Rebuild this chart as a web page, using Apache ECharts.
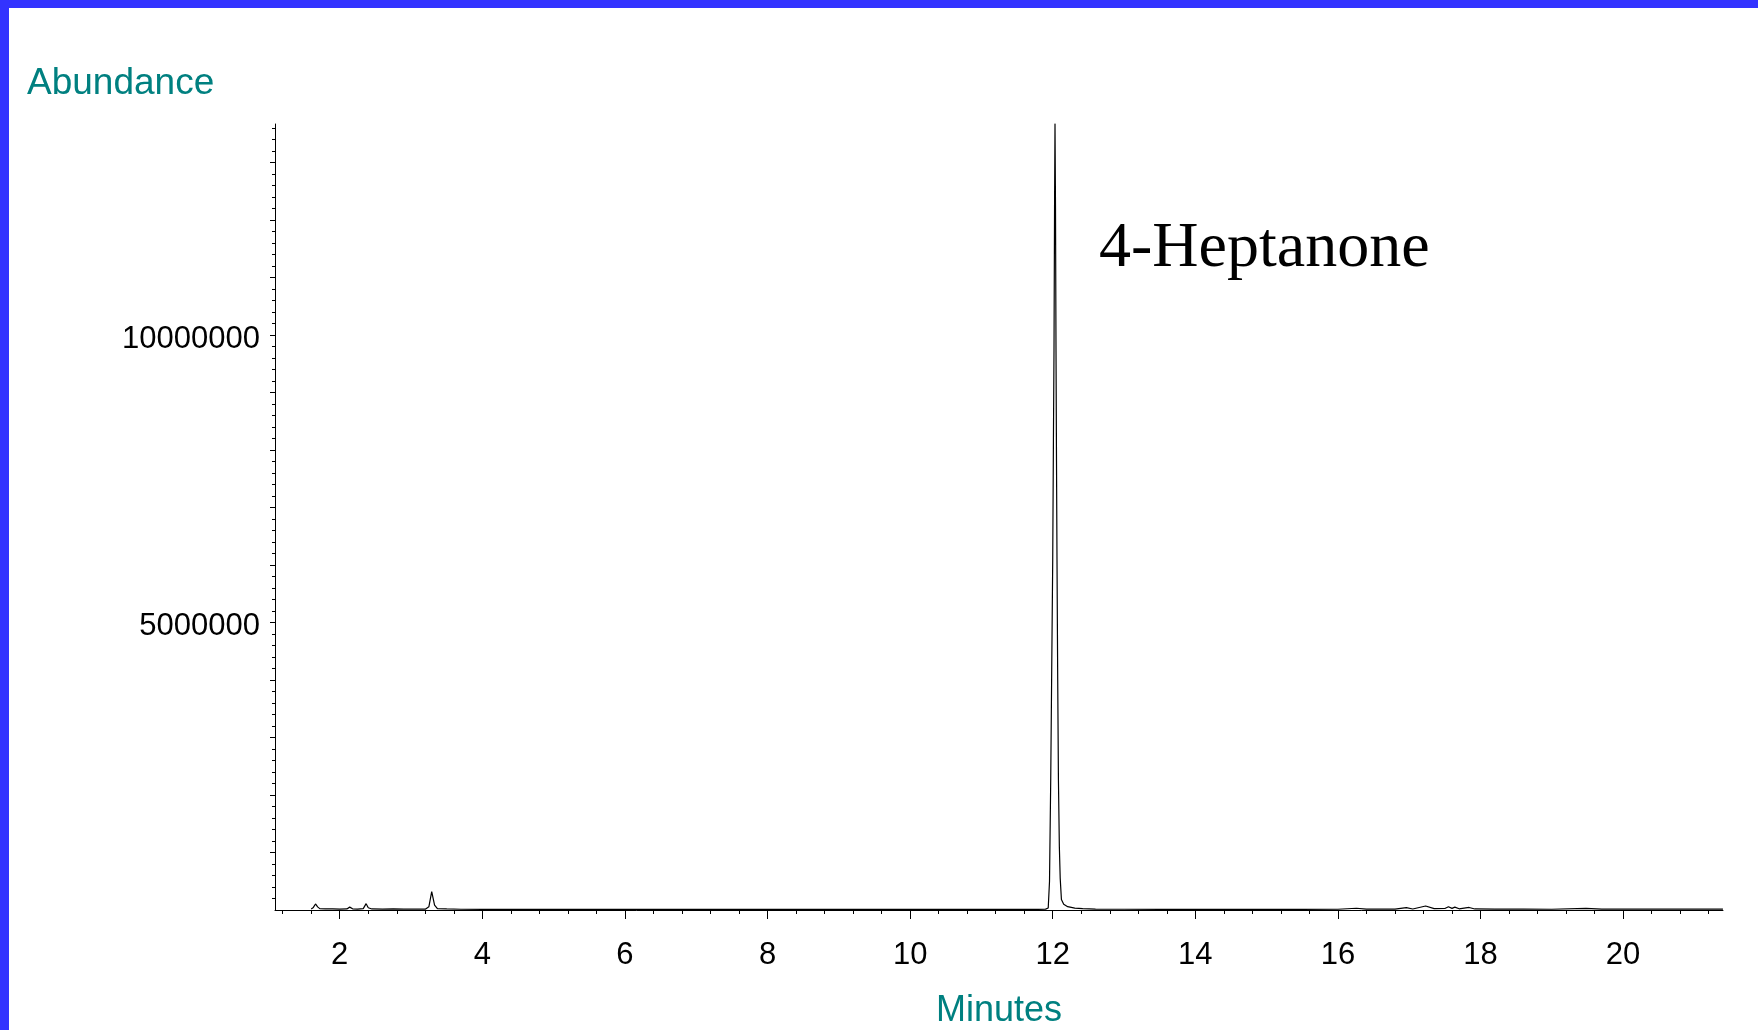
<!DOCTYPE html>
<html>
<head>
<meta charset="utf-8">
<title>4-Heptanone chromatogram</title>
<script src="https://cdn.jsdelivr.net/npm/echarts@6/dist/echarts.min.js"></script>
<style>
  html, body { margin: 0; padding: 0; background: #ffffff; }
  #chart { width: 1758px; height: 1030px; }
</style>
</head>
<body>
<div id="chart"></div>
<script>
// retention time (min) and abundance
var times = [
  1.60, 1.63, 1.66, 1.69, 1.72, 1.80, 1.90, 2.00, 2.10, 2.14, 2.18, 2.25,
  2.33, 2.37, 2.40, 2.45, 2.60, 2.75, 2.90, 3.05, 3.20, 3.25, 3.29, 3.33,
  3.37, 3.50, 3.70, 4.00, 4.50, 5.00, 5.50, 6.00, 6.50, 7.00, 7.50, 8.00,
  8.50, 9.00, 9.50, 10.00, 10.50, 11.00, 11.50, 11.80, 11.90, 11.937, 11.955, 11.972,
  11.986, 12.000, 12.010, 12.018, 12.026, 12.032, 12.039, 12.046, 12.053, 12.060, 12.070, 12.080,
  12.093, 12.105, 12.122, 12.154, 12.21, 12.31, 12.42, 12.60, 13.00, 13.50, 14.00, 14.50,
  15.00, 15.50, 16.00, 16.26, 16.40, 16.80, 16.96, 17.05, 17.23, 17.35, 17.50, 17.55,
  17.60, 17.64, 17.70, 17.84, 17.92, 18.20, 18.60, 19.00, 19.48, 19.70, 20.00, 20.50,
  21.00, 21.40
];
var abundance = [
  18000, 45000, 105000, 55000, 24000, 18000, 21000, 16000, 18000, 50000, 20000, 16000,
  24000, 110000, 40000, 18000, 16000, 19000, 15000, 17000, 15000, 55000, 320000, 85000,
  24000, 18000, 13000, 11000, 12000, 10000, 11000, 10000, 11000, 10000, 10000, 12000,
  10000, 11000, 10000, 11000, 10000, 10000, 11000, 12000, 15000, 35000, 500000, 2270000,
  4200000, 6090000, 8200000, 9740000, 12300000, 13680000, 12200000, 9740000, 7800000, 6090000, 4000000, 2270000,
  1100000, 550000, 181000, 100000, 58000, 34000, 23000, 16000, 13000, 12000, 11000, 11000,
  12000, 11000, 13000, 30000, 14000, 15000, 40000, 18000, 70000, 23000, 26000, 56000,
  28000, 50000, 21000, 44000, 18000, 15000, 14000, 13000, 28000, 16000, 15000, 14000,
  15000, 15000
];

// axis ticks and labels
var xMajorTicks = [2, 4, 6, 8, 10, 12, 14, 16, 18, 20];
var yLabelValues = [5000000, 10000000];
var yMajorTicks = [1000000, 2000000, 3000000, 4000000, 5000000, 6000000, 7000000,
  8000000, 9000000, 10000000, 11000000, 12000000, 13000000];

var xMin = 1.092, xMax = 21.401;
var yMin = 0, yMax = 13667000;
// the printed y labels sit a few pixels below their ticks
var yLabelShift = 75000;

// minor ticks: 0.4 min on x, 200000 on y
var xMinorTicks = [];
for (var i = 3; i * 0.4 <= xMax; i++) xMinorTicks.push(Math.round(i * 0.4 * 10) / 10);
var yMinorTicks = [];
for (var j = 1; j * 200000 <= yMax; j++) yMinorTicks.push(j * 200000);

var points = times.map(function (t, k) { return [t, abundance[k]]; });

var teal = '#008080';
var font = 'Liberation Sans, Arial, sans-serif';

var myChart = echarts.init(document.getElementById('chart'));

var option = {
  backgroundColor: '#ffffff',
  animation: false,
  title: [{
    text: 'Abundance',
    left: 27,
    top: 65,
    padding: 0,
    textStyle: { color: teal, fontSize: 37, fontWeight: 'normal', fontFamily: font }
  }, {
    text: '4-Heptanone',
    left: 1099,
    top: 217,
    padding: 0,
    textStyle: { color: '#000000', fontSize: 64, fontWeight: 'normal', fontFamily: 'Liberation Serif, Times New Roman, serif' }
  }],
  graphic: [
    { type: 'rect', shape: { x: 0, y: 0, width: 1758, height: 8 }, style: { fill: '#3333ff' }, z: 100 },
    { type: 'rect', shape: { x: 0, y: 0, width: 9, height: 1030 }, style: { fill: '#3333ff' }, z: 100 }
  ],
  grid: {
    left: 275,
    right: 35,
    top: 124,
    bottom: 120,
    containLabel: false,
    outerBoundsMode: 'none'
  },
  xAxis: [{
    type: 'value',
    min: xMin,
    max: xMax,
    position: 'bottom',
    name: 'Minutes',
    nameLocation: 'middle',
    nameGap: 83,
    nameTextStyle: { color: teal, fontSize: 36, fontFamily: font },
    axisLine: { show: true, lineStyle: { color: '#000000', width: 1 } },
    axisTick: { show: true, customValues: xMajorTicks, length: 9, lineStyle: { color: '#000000' } },
    axisLabel: { customValues: xMajorTicks, color: '#000000', fontSize: 31, fontFamily: font, margin: 30 },
    splitLine: { show: false }
  }, {
    type: 'value',
    min: xMin,
    max: xMax,
    position: 'bottom',
    axisLine: { show: false },
    axisTick: { show: true, customValues: xMinorTicks, length: 4, lineStyle: { color: '#000000' } },
    axisLabel: { show: false },
    splitLine: { show: false }
  }],
  yAxis: [{
    type: 'value',
    min: yMin,
    max: yMax,
    position: 'left',
    axisLine: { show: true, lineStyle: { color: '#000000', width: 1 } },
    axisTick: { show: true, customValues: yMajorTicks, length: 5, lineStyle: { color: '#000000' } },
    axisLabel: { show: false },
    splitLine: { show: false }
  }, {
    type: 'value',
    min: yMin,
    max: yMax,
    position: 'left',
    axisLine: { show: false },
    axisTick: { show: true, customValues: yMinorTicks, length: 3, lineStyle: { color: '#000000' } },
    axisLabel: { show: false },
    splitLine: { show: false }
  }, {
    type: 'value',
    min: yMin + yLabelShift,
    max: yMax + yLabelShift,
    position: 'left',
    axisLine: { show: false },
    axisTick: { show: false },
    axisLabel: {
      customValues: yLabelValues,
      color: '#000000',
      fontSize: 31,
      fontFamily: font,
      margin: 15,
      formatter: function (v) { return String(v); }
    },
    splitLine: { show: false }
  }],
  series: [{
    name: 'TIC',
    type: 'line',
    xAxisIndex: 0,
    yAxisIndex: 0,
    data: points,
    showSymbol: false,
    symbol: 'none',
    smooth: false,
    lineStyle: { color: '#000000', width: 1.2 }
  }]
};

myChart.setOption(option);
</script>
</body>
</html>
